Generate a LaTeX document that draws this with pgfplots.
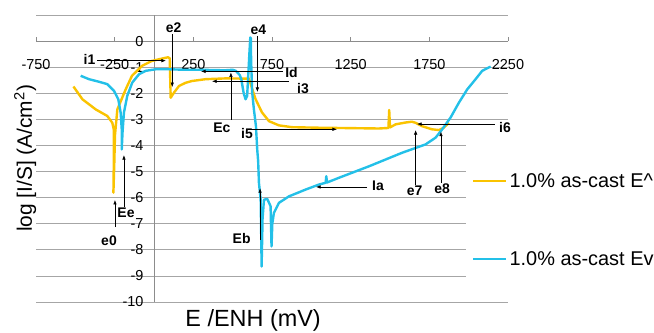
\documentclass[border=0pt]{standalone}
\usepackage{pgfplots}
\pgfplotsset{compat=1.18}
\usepackage{fontspec}
\setmainfont{Liberation Sans}
\usetikzlibrary{arrows.meta}
\definecolor{cgold}{RGB}{250,195,0}
\definecolor{ccyan}{RGB}{35,192,232}
\tikzset{
  annot/.style={font=\fontsize{14}{16}\selectfont\bfseries},
  arr/.style={-{Latex[length=4.5bp,width=3.5bp]}, line width=0.6bp, black},
}
\begin{document}
\begin{tikzpicture}
\useasboundingbox (0,0) rectangle (654bp,333bp);
\begin{axis}[
  at={(36bp,31bp)}, anchor=south west,
  scale only axis, width=472bp, height=287bp,
  xmin=-750, xmax=2250, ymin=-10, ymax=1,
  axis lines=middle,
  axis line style={-, draw=black!45, line width=0.8bp},
  hide obscured x ticks=false, hide obscured y ticks=false,
  xtick={-750,-250,250,750,1250,1750,2250},
  xticklabels={-750,-250,250,750,1250,1750,2250},
  ytick={-10,-9,...,1},
  yticklabels={-10,-9,-8,-7,-6,-5,-4,-3,-2,-1,0,{}},
  ymajorgrids, grid style={black!35, line width=0.8bp},
  xtick style={draw=black!45, line width=0.8bp},
  ytick style={draw=none},
  major tick length=4bp, tick align=inside,
  tick label style={font=\fontsize{14.5}{17}\selectfont},
  xticklabel style={anchor=north, yshift=-15bp},
  yticklabel style={anchor=east, xshift=-7bp},
  every axis x label/.style={at={(axis description cs:0.46,-0.063)}, anchor=center},
  every axis y label/.style={at={(axis description cs:-0.023,0.5)}, rotate=90, anchor=center},
  xlabel={E /ENH (mV)},
  ylabel={log [I/S] (A/cm\textsuperscript{2})},
  xlabel style={font=\fontsize{23.5}{27}\selectfont},
  ylabel style={font=\fontsize{21}{25}\selectfont},
  clip=false,
  legend cell align=left,
  legend image code/.code={\draw[#1] (0bp,0bp) -- (33bp,0bp);},
  legend style={at={(axis description cs:0.911,0.554)}, anchor=north west, draw=none, fill=white,
    inner xsep=6bp, inner ysep=28bp, row sep=59bp, font=\fontsize{20}{24}\selectfont},
]
\addplot[cgold, line width=2.4bp, line join=round] coordinates {
(-512,-1.74) (-455,-2.23) (-370,-2.62) (-297,-2.87) (-265,-3.13) (-256,-3.38) (-256,-4.9) (-258,-5.81)
(-252,-4.6) (-248,-3.6) (-233,-2.62) (-180,-1.85) (-140,-1.33) (-76,-0.95) (-13,-0.76) (51,-0.67)
(89,-0.62) (100,-0.66) (106,-2.17) (130,-1.95) (159,-1.72) (200,-1.6) (241,-1.53) (328,-1.46)
(455,-1.43) (604,-1.44) (625,-1.85) (646,-2.23) (686,-2.73) (731,-3.07) (794,-3.23) (877,-3.30)
(1048,-3.32) (1429,-3.35) (1490,-3.33) (1495,-2.64) (1500,-3.31) (1536,-3.19) (1600,-3.12)
(1639,-3.09) (1662,-3.13) (1703,-3.26) (1766,-3.38) (1811,-3.41) (1842,-3.32) (1874,-3.13)
};
\addlegendentry{1.0\% as-cast E\^{}}
\addplot[ccyan, line width=2.4bp, line join=round] coordinates {
(-466,-1.33) (-413,-1.46) (-349,-1.56) (-297,-1.65) (-254,-1.91) (-227,-2.23) (-212,-2.74) (-205,-3.38)
(-205,-4.15) (-200,-3.5) (-191,-2.74) (-170,-2.10) (-138,-1.59) (-95,-1.27) (-53,-1.14) (11,-1.08)
(95,-1.08) (200,-1.1) (300,-1.1) (450,-1.12) (500,-1.1) (520,-1.14) (545,-1.3) (555,-1.46)
(570,-2.0) (582,-2.23) (592,-2.1) (600,-1.2) (607,-0.4) (612,0.14) (616,0.1) (617,-0.7)
(624,-1.97) (635,-2.62) (648,-3.26) (656,-4.15) (662,-4.6) (667,-5.43) (678,-6.08) (681,-7.23)
(684,-8.64) (690,-6.8) (699,-6.08) (720,-6.05) (741,-6.33) (747,-7.87) (752,-7.0) (762,-6.59)
(794,-6.2) (858,-5.95) (964,-5.69) (1048,-5.5) (1091,-5.43) (1095,-5.18) (1100,-5.42) (1175,-5.24)
(1366,-4.8) (1577,-4.28) (1726,-3.96) (1790,-3.7) (1832,-3.38) (1885,-2.93) (1938,-2.36)
(1991,-1.85) (2044,-1.46) (2086,-1.14) (2128,-1.01) (2140,-0.98)
};
\addlegendentry{1.0\% as-cast Ev}
% annotations
\draw[arr] (axis cs:-362,-0.75) -- (axis cs:76,-0.75);
\node[annot] at (axis cs:-410,-0.72) {i1};
\draw[arr] (axis cs:116,0.27) -- (axis cs:116,-1.76);
\node[annot] at (axis cs:124,0.50) {e2};
\draw[arr] (axis cs:657,0.2) -- (axis cs:657,-1.95);
\node[annot] at (axis cs:664,0.43) {e4};
\draw[arr] (axis cs:820,-1.16) -- (axis cs:299,-1.16);
\node[annot] at (axis cs:874,-1.2) {Id};
\draw[arr] (axis cs:858,-1.54) -- (axis cs:369,-1.54);
\node[annot] at (axis cs:947,-1.80) {i3};
\draw[arr] (axis cs:489,-3.02) -- (axis cs:489,-1.20);
\node[annot] at (axis cs:432,-3.33) {Ec};
\draw[arr] (axis cs:597,-3.38) -- (axis cs:1163,-3.38);
\node[annot] at (axis cs:591,-3.56) {i5};
\draw[arr] (axis cs:-248,-7.13) -- (axis cs:-248,-6.09);
\node[annot] at (axis cs:-286,-7.66) {e0};
\draw[arr] (axis cs:-191,-6.35) -- (axis cs:-191,-4.37);
\node[annot] at (axis cs:-178,-6.57) {Ee};
\draw[arr] (axis cs:674,-7.62) -- (axis cs:674,-5.64);
\node[annot] at (axis cs:557,-7.57) {Eb};
\draw[arr] (axis cs:1354,-5.59) -- (axis cs:1030,-5.59);
\node[annot] at (axis cs:1424,-5.55) {Ia};
\draw[arr] (axis cs:1663,-5.52) -- (axis cs:1663,-3.41);
\node[annot] at (axis cs:1656,-5.75) {e7};
\draw[arr] (axis cs:1824,-5.44) -- (axis cs:1824,-3.47);
\node[annot] at (axis cs:1831,-5.67) {e8};
\draw[arr] (axis cs:2167,-3.18) -- (axis cs:1672,-3.18);
\node[annot] at (axis cs:2231,-3.31) {i6};
\end{axis}
\end{tikzpicture}
\end{document}
